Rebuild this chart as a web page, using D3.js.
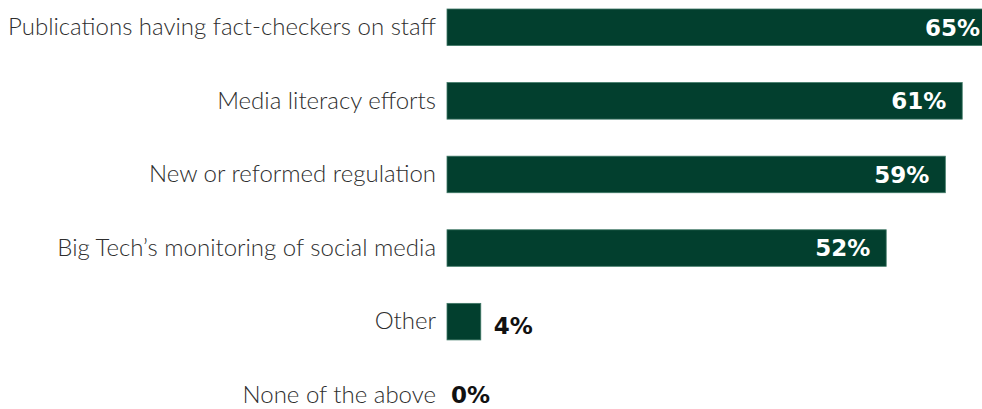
<!DOCTYPE html>
<html>
<head>
<meta charset="utf-8">
<script src="https://cdn.jsdelivr.net/npm/d3@7"></script>
<style>
  html, body { margin: 0; padding: 0; background: #fff; }
  svg { display: block; }
</style>
</head>
<body>
<svg id="chart" width="982" height="409"></svg>
<script>
// Survey responses: measures seen as effective against misinformation
const categories = [
  "Publications having fact-checkers on staff",
  "Media literacy efforts",
  "New or reformed regulation",
  "Big Tech\u2019s monitoring of social media",
  "Other",
  "None of the above"
];
const shares = [65, 61, 59, 52, 4, 0];

const barColor = "#023f2e";

const svg = d3.select("#chart");

const x = d3.scaleLinear().domain([0, 65]).range([447, 996]);
const y = d3.scaleBand()
  .domain(categories)
  .range([9, 413.5])
  .paddingInner(37 / 73.5)
  .paddingOuter(0);

const rows = categories.map((c, i) => ({ cat: c, val: shares[i] }));

// category labels
svg.append("g")
  .selectAll("text")
  .data(rows)
  .join("text")
  .attr("x", x(0) - 11)
  .attr("y", d => y(d.cat) + y.bandwidth() / 2)
  .attr("dy", "0.32em")
  .attr("text-anchor", "end")
  .attr("font-family", "Lato, 'Open Sans', sans-serif")
  .attr("font-weight", 300)
  .attr("font-size", 24)
  .attr("fill", "#2e2e2e")
  .text(d => d.cat);

// bars
svg.append("g")
  .selectAll("rect")
  .data(rows.filter(d => d.val > 0))
  .join("rect")
  .attr("x", x(0))
  .attr("y", d => y(d.cat))
  .attr("width", d => x(d.val) - x(0))
  .attr("height", y.bandwidth())
  .attr("fill", barColor)
  .attr("stroke", "#3f7866")
  .attr("stroke-width", 0.8);

// value labels: inside for long bars, outside for short ones
const inside = d => d.val >= 20;
svg.append("g")
  .selectAll("text")
  .data(rows)
  .join("text")
  .attr("x", d => inside(d) ? x(d.val) - 16 : x(d.val) + (d.val > 0 ? 13 : 4))
  .attr("y", d => y(d.cat) + y.bandwidth() / 2 + (inside(d) ? 0 : (d.val > 0 ? 4 : -1)))
  .attr("dy", "0.36em")
  .attr("text-anchor", d => inside(d) ? "end" : "start")
  .attr("font-family", "'DejaVu Sans', sans-serif")
  .attr("font-weight", 700)
  .attr("font-size", 23)
  .attr("fill", d => inside(d) ? "#ffffff" : "#111111")
  .text(d => d.val + "%");
</script>
</body>
</html>
